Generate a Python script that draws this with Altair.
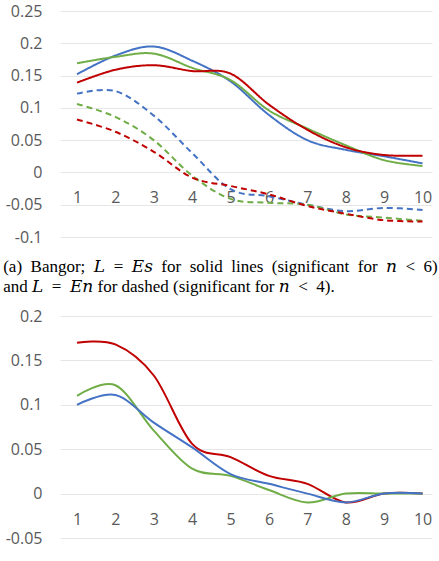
import altair as alt
import pandas as pd

# n values shared by both panels
n_vals = list(range(1, 11))

# Panel (a): solid lines, L = Es
es_blue = [0.152, 0.181, 0.195, 0.173, 0.141, 0.089, 0.050, 0.035, 0.025, 0.014]
es_green = [0.169, 0.179, 0.184, 0.162, 0.143, 0.096, 0.068, 0.042, 0.019, 0.010]
es_red = [0.139, 0.159, 0.166, 0.157, 0.153, 0.105, 0.066, 0.039, 0.027, 0.026]

# Panel (a): dashed lines, L = En
en_blue = [0.122, 0.126, 0.088, 0.030, -0.026, -0.037, -0.050, -0.060, -0.055, -0.058]
en_green = [0.106, 0.086, 0.050, -0.005, -0.041, -0.047, -0.050, -0.065, -0.070, -0.075]
en_red = [0.082, 0.063, 0.032, -0.008, -0.021, -0.034, -0.052, -0.064, -0.074, -0.076]

# Panel (b)
b_red = [0.170, 0.168, 0.133, 0.056, 0.041, 0.020, 0.011, -0.010, 0.0, 0.0]
b_green = [0.110, 0.122, 0.071, 0.028, 0.020, 0.004, -0.010, 0.0, 0.0, 0.0]
b_blue = [0.100, 0.111, 0.080, 0.052, 0.022, 0.011, 0.0, -0.010, 0.0, 0.0]

top_ticks = [-0.1, -0.05, 0.0, 0.05, 0.1, 0.15, 0.2, 0.25]
bottom_ticks = [-0.05, 0.0, 0.05, 0.1, 0.15, 0.2]

# caption of panel (a): math symbols in italic; the first line is justified
# with wider word spaces, the relations get extra room on both sides
SP = "\u2002"            # word space of the justified first line
REL = "\u2002"           # space around = and <
caption_lines = [
    SP.join(["(a)", "Bangor;", f"𝐿{REL}={REL}𝐸𝑠", "for", "solid", "lines",
             "(significant", "for", f"𝑛{REL}<{REL}6)"]),
    f"and 𝐿{REL}={REL}𝐸𝑛 for dashed (significant for 𝑛{REL}<{REL}4).",
]

series_names = ["Blue", "Green", "Red"]
series_colors = ["#4472C4", "#70AD47", "#C00000"]


def long_rows(series, style, values):
    return [{"n": n, "value": v, "series": series, "style": style, "key": series + style}
            for n, v in zip(n_vals, values)]


top_rows = (long_rows("Blue", "Es", es_blue) + long_rows("Green", "Es", es_green)
            + long_rows("Red", "Es", es_red) + long_rows("Blue", "En", en_blue)
            + long_rows("Green", "En", en_green) + long_rows("Red", "En", en_red))
bottom_rows = (long_rows("Red", "Es", b_red) + long_rows("Green", "Es", b_green)
               + long_rows("Blue", "Es", b_blue))
top_df = pd.DataFrame(top_rows)
bottom_df = pd.DataFrame(bottom_rows)

label_font = "Open Sans"
label_color = "#595959"
label_expr = "replace(format(datum.value, '.2~f'), '\u2212', '-')"


def x_enc(zero_offset):
    return alt.X(
        "n:Q",
        scale=alt.Scale(domain=[0.557, 10.247], nice=False, zero=False),
        axis=alt.Axis(values=n_vals, grid=False, domain=False, ticks=False,
                      labelPadding=17, offset=zero_offset, labelFontSize=16,
                      labelColor=label_color, labelFont=label_font,
                      labelFlush=False, labelOverlap=False, title=None),
    )


def y_enc(domain, ticks):
    return alt.Y(
        "value:Q",
        scale=alt.Scale(domain=domain, nice=False, zero=False),
        axis=alt.Axis(values=ticks, grid=True, gridColor="#E6E6E6", gridWidth=1,
                      domain=False, ticks=False, labelPadding=18, labelFontSize=16,
                      labelColor=label_color, labelFont=label_font,
                      labelFlush=False, labelOverlap=False, labelExpr=label_expr,
                      title=None),
    )


color_enc = alt.Color("series:N", scale=alt.Scale(domain=series_names, range=series_colors),
                      legend=None)
dash_enc = alt.StrokeDash("style:N", scale=alt.Scale(domain=["Es", "En"], range=[[1, 0], [6, 4]]),
                          legend=None)

top = alt.Chart(top_df).mark_line(interpolate="cardinal", strokeWidth=2).encode(
    x=x_enc(-65),
    y=y_enc([-0.1, 0.25], top_ticks),
    color=color_enc,
    strokeDash=dash_enc,
    detail="key:N",
).properties(width=372, height=226)

bottom = alt.Chart(bottom_df).mark_line(interpolate="cardinal", strokeWidth=2).encode(
    x=x_enc(-44),
    y=y_enc([-0.05, 0.2], bottom_ticks),
    color=color_enc,
    detail="key:N",
).properties(
    width=372,
    height=222,
    title=alt.Title(caption_lines, anchor="start", frame="bounds",
                    font="'Liberation Serif', 'DejaVu Serif', serif",
                    fontSize=17, fontWeight="normal", color="#000000", lineHeight=20,
                    baseline="alphabetic", offset=-1, dx=-2),
)

chart = alt.vconcat(top, bottom, spacing=79, bounds="flush").configure_view(
    stroke=None
).properties(padding={"left": 3, "top": 3, "right": 0, "bottom": 6})

chart.save("out.html", embed_options={"renderer": "svg", "actions": False})
